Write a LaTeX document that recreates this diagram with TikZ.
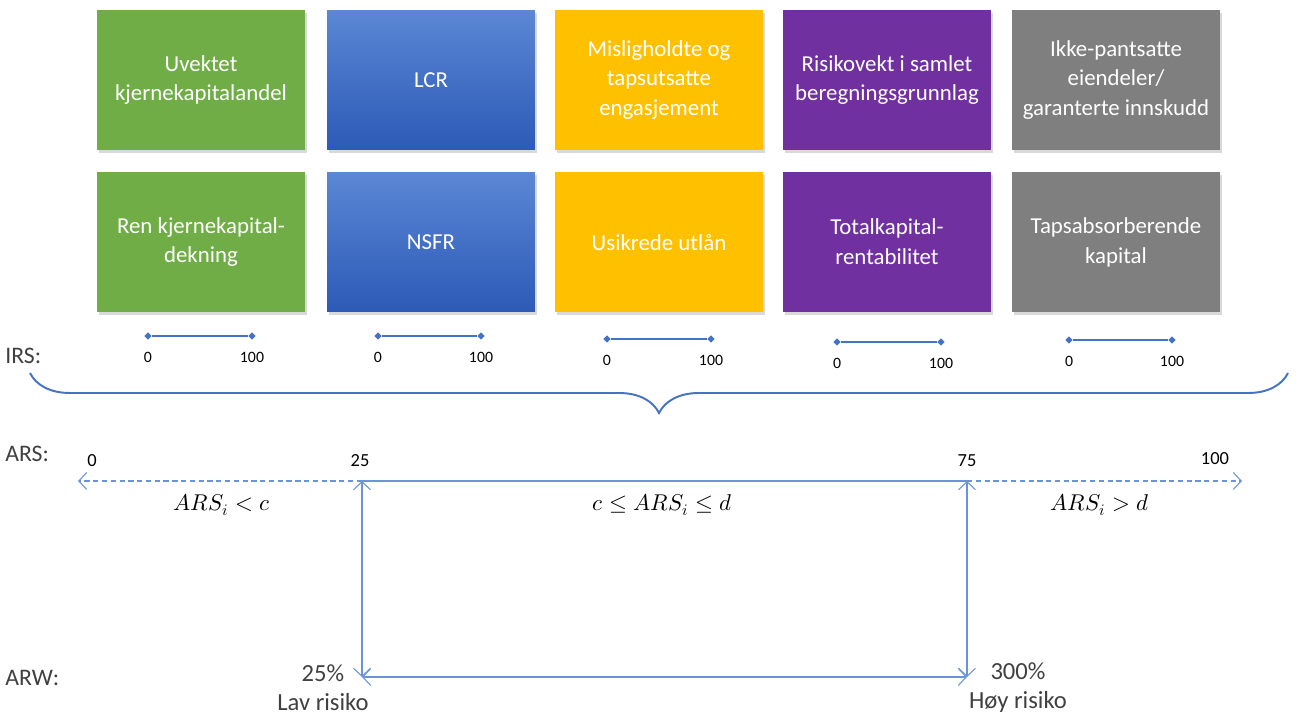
\documentclass[tikz,border=0pt]{standalone}
\usepackage{fontspec}
\usepackage{unicode-math}
\setmainfont{Carlito}
\setmathfont{Latin Modern Math}
\usetikzlibrary{shapes.geometric, shadows, arrows.meta, decorations.pathreplacing, positioning}
\definecolor{kgreen}{HTML}{70AD47}
\definecolor{kbluetop}{HTML}{5B87D5}
\definecolor{kbluebot}{HTML}{2C5AB6}
\definecolor{korange}{HTML}{FFC000}
\definecolor{kpurple}{HTML}{7030A0}
\definecolor{kgray}{HTML}{7F7F7F}
\definecolor{kblue}{HTML}{4472C4}
\definecolor{karrow}{HTML}{6A93DA}
\definecolor{ktext}{HTML}{404040}
\tikzset{
  kpi/.style = {
    rectangle, minimum width=4.16cm, minimum height=2.8cm,
    align=center, text=white, font=\fontsize{13}{17}\selectfont,
    drop shadow={shadow xshift=1.2pt, shadow yshift=-1.6pt, opacity=0.3}
  },
  kpigreen/.style  = { kpi, fill=kgreen },
  kpiblue/.style   = { kpi, top color=kbluetop, bottom color=kbluebot },
  kpiorange/.style = { kpi, fill=korange },
  kpipurple/.style = { kpi, fill=kpurple },
  kpigray/.style   = { kpi, fill=kgray },
  marker/.style = {
    diamond, fill=kblue, inner sep=0pt, minimum size=0.15cm
  },
  scaleline/.style = { draw=kblue, line width=0.6pt },
  ticklbl/.style = { font=\fontsize{9}{10}\selectfont, inner sep=1pt },
  arslbl/.style  = { font=\fontsize{10.5}{12}\selectfont, inner sep=1pt },
  rowlbl/.style  = { font=\fontsize{13.5}{16}\selectfont, text=ktext, anchor=west, inner sep=0pt },
  risklbl/.style = { font=\fontsize{14}{16.5}\selectfont, text=ktext, align=center, inner sep=0pt },
  mathlbl/.style = { font=\fontsize{13}{16}\selectfont },
  bracket/.style = {
    draw=kblue, line width=1.1pt,
    decorate, decoration={brace, amplitude=0.8cm}
  },
  axisline/.style = { draw=karrow, line width=0.6pt },
  dashline/.style = { axisline, dash pattern=on 3pt off 2pt }
}

\begin{document}
\begin{tikzpicture}[x=0.02cm, y=0.02cm,
    >={Straight Barb[length=1.6mm, width=3.4mm]}]

    \useasboundingbox (0,0) rectangle (1298,717);

    % ------------------------------------------------------------- Top row
    \node [kpigreen]  (uvektet)    at ( 201, 637) {Uvektet\\kjernekapitalandel};
    \node [kpiblue]   (lcr)        at ( 431, 637) {LCR};
    \node [kpiorange] (mislig)     at ( 659, 637) {Misligholdte og\\tapsutsatte\\engasjement};
    \node [kpipurple] (risikovekt) at ( 887, 637) {Risikovekt i samlet\\beregningsgrunnlag};
    \node [kpigray]   (ikkepant)   at (1116, 637) {Ikke-pantsatte\\eiendeler/\\garanterte innskudd};

    % ---------------------------------------------------------- Bottom row
    \node [kpigreen]  (renkjerne)  at ( 201, 475) {Ren kjernekapital-\\dekning};
    \node [kpiblue]   (nsfr)       at ( 431, 475) {NSFR};
    \node [kpiorange] (usikrede)   at ( 659, 475) {Usikrede utlån};
    \node [kpipurple] (totalkap)   at ( 887, 475) {Totalkapital-\\rentabilitet};
    \node [kpigray]   (tapsabs)    at (1116, 475) {Tapsabsorberende\\kapital};

    % ---------------------------------------------------------- IRS scales
    \node [rowlbl] (irs) at (5, 361) {IRS:};
    \foreach \i/\xa/\xb/\yy in {1/148/252/381, 2/378/481/381, 3/607/711/378,
                                4/837/941/375, 5/1069/1172/377} {
      \node [marker] (lo\i) at (\xa, \yy) {};
      \node [marker] (hi\i) at (\xb, \yy) {};
      \draw [scaleline] (lo\i) -- (hi\i);
      \node [ticklbl, below=0.2cm of lo\i] {0};
      \node [ticklbl, below=0.2cm of hi\i] {100};
    }

    % --------------------------------------------------------------- Brace
    \coordinate (bre) at (1288, 344);
    \coordinate (brw) at (30, 344);
    \draw [bracket] (bre) -- (brw);

    % ------------------------------------------------------------ ARS axis
    \node [rowlbl] (ars) at (5, 263) {ARS:};
    \coordinate (arsW) at (78, 236);
    \coordinate (arsC) at (362, 236);
    \coordinate (arsD) at (967, 236);
    \coordinate (arsE) at (1242, 236);

    \node [arslbl] (t0)   at (92, 256)   {0};
    \node [arslbl] (t25)  at (360, 256)  {25};
    \node [arslbl] (t75)  at (967, 256)  {75};
    \node [arslbl] (t100) at (1215, 258) {100};

    \node [mathlbl] (low)  at (222, 212)  {$ARS_i < c$};
    \node [mathlbl] (mid)  at (662, 212)  {$c \le ARS_i \le d$};
    \node [mathlbl] (high) at (1100, 212) {$ARS_i > d$};

    % ------------------------------------------------------------ ARW axis
    \node [rowlbl] (arw) at (5, 39) {ARW:};
    \coordinate (arwC) at (362, 40);
    \coordinate (arwD) at (967, 40);

    \node [risklbl] (lav) at (323, 29)  {25\%\\Lav risiko};
    \node [risklbl] (hoy) at (1018, 29) {300\%\\Høy risiko};

    % ---------------------------------------------------------- Connectors
    \draw [dashline, ->] (arsC) -- (arsW);
    \draw [dashline, ->] (arsD) -- (arsE);
    \draw [axisline] (arsC) -- (arsD);
    \draw [axisline, <->] (arsC) -- (arwC);
    \draw [axisline, <->] (arsD) -- (arwD);
    \draw [axisline, <->] (arwC) -- (arwD);

\end{tikzpicture}
\end{document}
